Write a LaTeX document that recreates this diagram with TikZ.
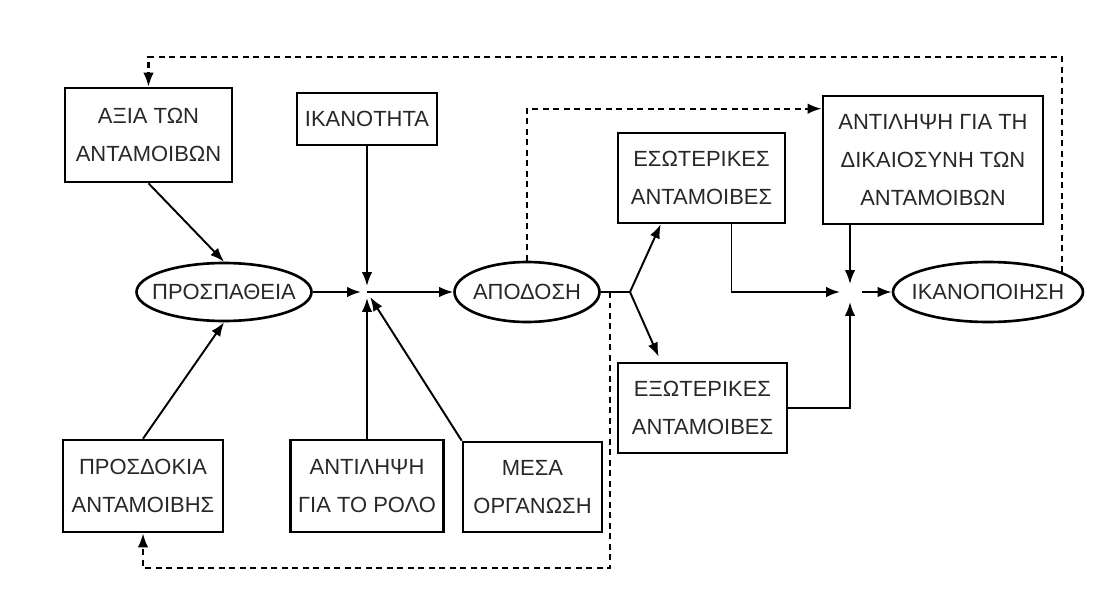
\documentclass[tikz,border=0pt]{standalone}
\usepackage{fontspec}
\setmainfont{Liberation Sans}
\usetikzlibrary{arrows.meta,shapes.geometric,calc}
\definecolor{ink}{RGB}{40,40,40}

\begin{document}
\begin{tikzpicture}[x=0.02cm,y=-0.02cm,
  box/.style={draw,line width=1.5pt,inner sep=0pt,align=center,text=ink,
    font=\fontsize{12.5}{21.6}\selectfont},
  oval/.style={draw,ellipse,line width=1.5pt,inner sep=0pt,text=ink,
    font=\fontsize{12.5}{14}\selectfont},
  arr/.style={line width=1.1pt,-{Latex[length=2.8mm,width=2.1mm]}},
  fb/.style={line width=1.3pt,dash pattern=on 1.2mm off 0.9mm,-{Latex[length=2.8mm,width=2.1mm]}}]
	\fill[white] (0,0) rectangle (1106,595);
	\useasboundingbox (0,0) rectangle (1106,595);
	% left column
	\node[box,minimum width=3.34cm,minimum height=1.88cm] (axia) at (148.5,135) {ΑΞΙΑ ΤΩΝ\\ΑΝΤΑΜΟΙΒΩΝ};
	\node[oval,minimum width=3.5cm,minimum height=1.16cm] (prosp) at (224,292) {\makebox[0pt]{ΠΡΟΣΠΑΘΕΙΑ}};
	\node[box,minimum width=3.2cm,minimum height=1.84cm] (prosd) at (143,486) {ΠΡΟΣΔΟΚΙΑ\\ΑΝΤΑΜΟΙΒΗΣ};
	% middle
	\node[box,minimum width=2.8cm,minimum height=1.04cm] (ikanot) at (367,119) {ΙΚΑΝΟΤΗΤΑ};
	\node[box,minimum width=3.06cm,minimum height=1.84cm] (rolo) at (367,486) {ΑΝΤΙΛΗΨΗ\\ΓΙΑ ΤΟ ΡΟΛΟ};
	\node[box,minimum width=2.78cm,minimum height=1.8cm] (mesa) at (532.5,487) {ΜΕΣΑ\\ΟΡΓΑΝΩΣΗ};
	\node[oval,minimum width=2.9cm,minimum height=1.2cm] (apod) at (527,292) {\makebox[0pt]{ΑΠΟΔΟΣΗ}};
	% right
	\node[box,minimum width=3.34cm,minimum height=1.8cm] (eso) at (701.5,178) {ΕΣΩΤΕΡΙΚΕΣ\\ΑΝΤΑΜΟΙΒΕΣ};
	\node[box,minimum width=3.38cm,minimum height=1.8cm] (exo) at (702.5,408) {ΕΞΩΤΕΡΙΚΕΣ\\ΑΝΤΑΜΟΙΒΕΣ};
	\node[box,minimum width=4.4cm,minimum height=2.56cm] (dik) at (933,160) {ΑΝΤΙΛΗΨΗ ΓΙΑ ΤΗ\\ΔΙΚΑΙΟΣΥΝΗ ΤΩΝ\\ΑΝΤΑΜΟΙΒΩΝ};
	\node[oval,minimum width=3.8cm,minimum height=1.2cm] (ikanop) at (988,292) {\makebox[0pt]{ΙΚΑΝΟΠΟΙΗΣΗ}};
	\coordinate (j1) at (367,292);
	\coordinate (j2) at (850,292);
	\coordinate (split) at (630,292);
	\coordinate (tap) at (610,292);
	\coordinate (top) at (0,57);
	\coordinate (bot) at (0,568);
	% solid arrows
	\draw[arr] (axia.south) -- (prosp.north);
	\draw[arr] (prosd.north) -- (prosp.south);
	\draw[arr,shorten >=1.2mm] (prosp.east) -- (j1);
	\draw[arr,shorten >=1.2mm] (ikanot.south) -- (j1);
	\draw[arr,shorten >=1.2mm] (rolo.north) -- (j1);
	\draw[arr,shorten >=1.2mm] (mesa.north west) -- (j1);
	\draw[arr] (j1) -- (apod.west);
	\draw[line width=1.1pt] (apod.east) -- (split);
	\draw[arr] (split) -- ($(eso.south west)+(44,0)$);
	\draw[arr] (split) -- ($(exo.north west)+(42,-5)$);
	\draw[arr,shorten >=2mm] ($(eso.south)+(30,0)$) |- (j2);
	\draw[arr,shorten >=2mm] (exo.east) -| (j2);
	\draw[arr,shorten >=1.6mm] (dik.south -| j2) -- (j2);
	\draw[arr,shorten <=2.4mm] (j2) -- (ikanop.west);
	% feedback
	\draw[fb] (ikanop.15) -- (ikanop.15 |- top) -| (axia.north);
	\draw[fb] (apod.north) |- ($(dik.north west)+(0,14)$);
	\draw[fb] (tap) -- (tap |- bot) -| (prosd.south);
\end{tikzpicture}
\end{document}
